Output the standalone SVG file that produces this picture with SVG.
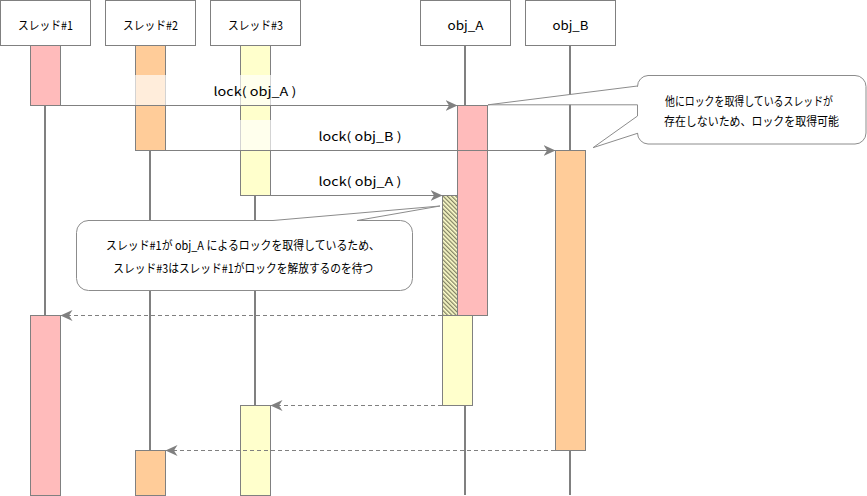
<svg xmlns="http://www.w3.org/2000/svg" width="867" height="496" viewBox="0 0 867 496">
<style>
text{font-family:"Noto Sans CJK JP","Noto Sans",sans-serif;font-size:12px;fill:#000;text-anchor:middle}
.hdr{fill:#fff;stroke:#808080;stroke-width:1}
.life{stroke:#808080;stroke-width:2;fill:none}
.bar{stroke:#808080;stroke-width:1}
.pink{fill:#FFBBBB}
.orange{fill:#FFCC99}
.yellow{fill:#FFFFCC}
.msg{stroke:#808080;stroke-width:1;fill:none;marker-end:url(#arr)}
.ret{stroke:#808080;stroke-width:1;fill:none;stroke-dasharray:4 3;marker-end:url(#arr)}
.lblbg{fill:#fff;fill-opacity:0.65}
.call{fill:#fff;stroke:#8c8c8c;stroke-width:1}
</style>
<defs>
<marker id="arr" viewBox="0 0 12 12" refX="11.5" refY="6" markerWidth="12" markerHeight="12" markerUnits="userSpaceOnUse" orient="auto">
<path d="M0,0.5 L12,6 L0,11.5 L3.5,6 Z" fill="#808080"/>
</marker>
<pattern id="hatch" patternUnits="userSpaceOnUse" width="3" height="3" patternTransform="rotate(-45)">
<rect width="3" height="3" fill="#FFFFCC"/>
<line x1="0.7" y1="0" x2="0.7" y2="3" stroke="#6b6b50" stroke-width="1.1"/>
</pattern>
</defs>

<g id="lifelines">
<line class="life" x1="45" y1="45" x2="45" y2="495"/>
<line class="life" x1="150" y1="45" x2="150" y2="495"/>
<line class="life" x1="255" y1="45" x2="255" y2="495"/>
<line class="life" x1="465" y1="45" x2="465" y2="495"/>
<line class="life" x1="570" y1="45" x2="570" y2="495"/>
</g>

<g id="thread1">
<rect class="hdr" x="0.5" y="0.5" width="90" height="45"/>
<text x="45.5" y="29.5" textLength="55" lengthAdjust="spacingAndGlyphs">スレッド#1</text>
<rect class="bar pink" x="30.5" y="45.5" width="30" height="60"/>
</g>
<g id="thread2">
<rect class="hdr" x="105.5" y="0.5" width="90" height="45"/>
<text x="150.5" y="29.5" textLength="55" lengthAdjust="spacingAndGlyphs">スレッド#2</text>
<rect class="bar orange" x="135.5" y="45.5" width="30" height="105"/>
</g>
<g id="thread3">
<rect class="hdr" x="210.5" y="0.5" width="90" height="45"/>
<text x="255.5" y="29.5" textLength="55" lengthAdjust="spacingAndGlyphs">スレッド#3</text>
<rect class="bar yellow" x="240.5" y="45.5" width="30" height="150"/>
</g>

<g id="label-backgrounds">
<rect class="lblbg" x="61" y="75" width="396" height="30"/>
<rect class="lblbg" x="166" y="120" width="389" height="30"/>
</g>

<g id="objA">
<rect class="hdr" x="420.5" y="0.5" width="90" height="45"/>
<text x="465.5" y="29.5" textLength="36" lengthAdjust="spacingAndGlyphs">obj_A</text>
<rect class="bar pink" x="457.5" y="105.5" width="30" height="210"/>
<rect class="bar" fill="url(#hatch)" x="442.5" y="195.5" width="15" height="120"/>
<rect class="bar yellow" x="442.5" y="315.5" width="30" height="90"/>
</g>
<g id="objB">
<rect class="hdr" x="525.5" y="0.5" width="90" height="45"/>
<text x="570.5" y="29.5" textLength="36" lengthAdjust="spacingAndGlyphs">obj_B</text>
<rect class="bar orange" x="555.5" y="150.5" width="30" height="300"/>
</g>

<g id="thread-bars-after">
<rect class="bar pink" x="30.5" y="315.5" width="30" height="180"/>
<rect class="bar yellow" x="240.5" y="405.5" width="30" height="90"/>
<rect class="bar orange" x="135.5" y="450.5" width="30" height="45"/>
</g>

<g id="connectors">
<line class="msg" x1="60.5" y1="105.5" x2="457" y2="105.5"/>
<line class="msg" x1="165.5" y1="150.5" x2="555" y2="150.5"/>
<line class="msg" x1="270.5" y1="195.5" x2="442" y2="195.5"/>
<line class="ret" x1="442" y1="315.5" x2="61" y2="315.5"/>
<line class="ret" x1="442" y1="405.5" x2="271" y2="405.5"/>
<line class="ret" x1="555" y1="450.5" x2="166" y2="450.5"/>
<text x="255" y="95.5" textLength="83" lengthAdjust="spacingAndGlyphs">lock( obj_A )</text>
<text x="360" y="140.5" textLength="83" lengthAdjust="spacingAndGlyphs">lock( obj_B )</text>
<text x="360" y="185.5" textLength="83" lengthAdjust="spacingAndGlyphs">lock( obj_A )</text>
</g>

<g id="note1">
<path class="call" d="M648,75.5 H855 A11,11 0 0 1 866,86.5 V133 A11,11 0 0 1 855,144 H648 A11,11 0 0 1 637.5,133 V133.3 L593,147.7 L637.5,116 V104.8 L488,104.8 L637.5,86 V86.5 A11,11 0 0 1 648,75.5 Z"/>
<text x="749" y="106" textLength="168" lengthAdjust="spacingAndGlyphs">他にロックを取得しているスレッドが</text>
<text x="751.5" y="126" textLength="175" lengthAdjust="spacingAndGlyphs">存在しないため、ロックを取得可能</text>
</g>

<g id="note2">
<path class="call" d="M88,220.5 H273 L440,206 L357,220.5 H400.5 A12,12 0 0 1 412.5,232.5 V278.5 A12,12 0 0 1 400.5,290.5 H88.5 A12,12 0 0 1 76.5,278.5 V232.5 A12,12 0 0 1 88.5,220.5 Z"/>
<text x="243" y="249.5" textLength="274" lengthAdjust="spacingAndGlyphs">スレッド#1が obj_A によるロックを取得しているため、</text>
<text x="243.3" y="273" textLength="260" lengthAdjust="spacingAndGlyphs">スレッド#3はスレッド#1がロックを解放するのを待つ</text>
</g>
</svg>
